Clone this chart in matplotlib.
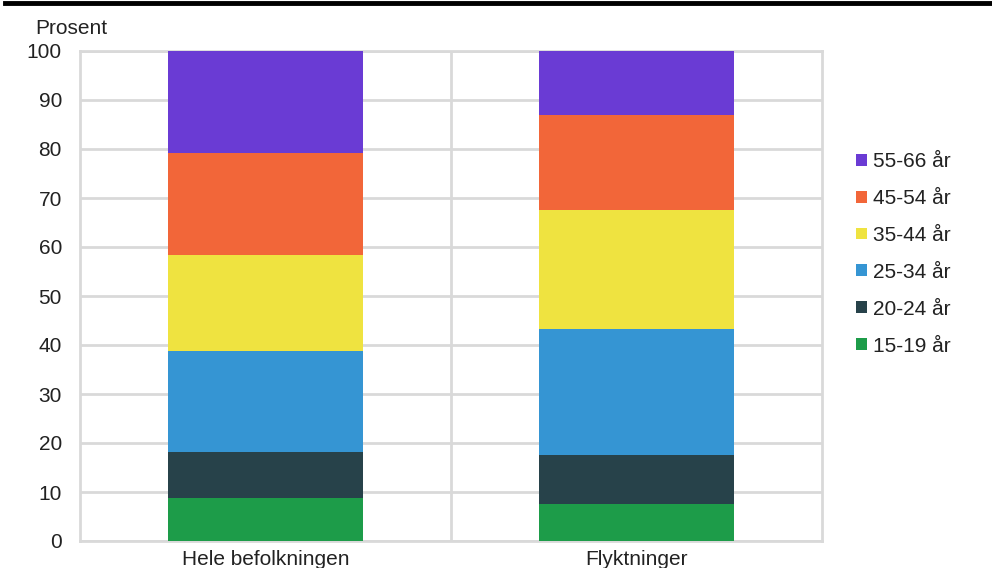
import matplotlib
matplotlib.use("Agg")
import matplotlib.pyplot as plt
from matplotlib.lines import Line2D

categories = ["Hele befolkningen", "Flyktninger"]
age_groups = ["15-19 år", "20-24 år", "25-34 år", "35-44 år", "45-54 år", "55-66 år"]
hele = [8.7, 9.5, 20.6, 19.6, 20.8, 20.8]
flyktninger = [7.6, 9.9, 25.8, 24.3, 19.3, 13.1]
colors = ["#1D9C49", "#27424A", "#3595D3", "#EFE340", "#F26639", "#6A3BD4"]
yticks = [0, 10, 20, 30, 40, 50, 60, 70, 80, 90, 100]

plt.rcParams['font.family'] = ['Liberation Sans', 'DejaVu Sans']

fig = plt.figure(figsize=(9.92, 5.68), dpi=100)
ax = fig.add_axes([80/992, 1-541/568, (822-80)/992, (541-51)/568])

x = list(range(len(categories)))
bottoms = [0.0] * len(categories)
series = [[hele[i], flyktninger[i]] for i in range(len(age_groups))]
for i, grp in enumerate(age_groups):
    ax.bar(x, series[i], bottom=bottoms, width=0.526, color=colors[i],
           label=grp, zorder=3, linewidth=0)
    bottoms = [b + v for b, v in zip(bottoms, series[i])]

ax.set_xlim(-0.5, len(categories) - 0.5)
ax.set_ylim(0, 100)
ax.set_yticks(yticks)
ax.set_xticks(x)
ax.set_xticklabels(categories)
ax.yaxis.grid(True, color="#D9D9D9", linewidth=2, zorder=0)
ax.axvline(0.5, color="#D9D9D9", linewidth=2, zorder=0)
for s in ax.spines.values():
    s.set_color("#D9D9D9")
    s.set_linewidth(2)
ax.tick_params(axis="both", length=0, labelsize=15, colors="#222222")
ax.tick_params(axis="y", pad=13)
ax.tick_params(axis="x", pad=6.5)

fig.text(35/992, 1-28/568, "Prosent", fontsize=15, color="#222222",
         ha="left", va="center")

h, l = ax.get_legend_handles_labels()
leg = ax.legend(h[::-1], l[::-1], loc="center left", bbox_to_anchor=(1.021, 0.586),
                frameon=False, fontsize=15, handlelength=0.5, handleheight=0.5,
                handletextpad=0.3, labelspacing=0.86, labelcolor="#222222")

fig.add_artist(Line2D([5/992, 1], [1-3/568, 1-3/568], color="black", linewidth=3.5,
                      transform=fig.transFigure))

fig.savefig("out.png", dpi=100)
